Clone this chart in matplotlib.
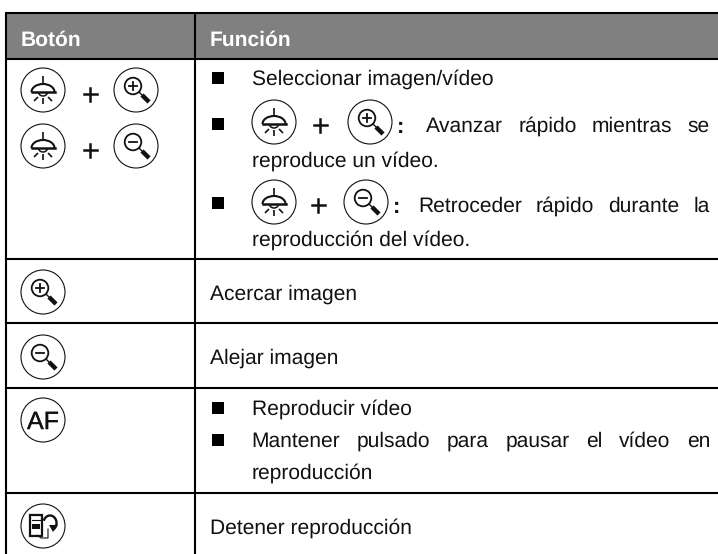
import matplotlib
matplotlib.use('Agg')
import matplotlib.pyplot as plt
import matplotlib.patheffects as pe
from matplotlib.patches import Circle, Rectangle, Arc, Polygon

plt.rcParams['font.family'] = ['Liberation Sans', 'DejaVu Sans']
plt.rcParams['text.hinting'] = 'none'
plt.rcParams['text.hinting_factor'] = 1

# textos de la tabla
encabezados = ['Botón', 'Función']
fila_select = 'Seleccionar imagen/vídeo'
avanzar = ['Avanzar', 'rápido', 'mientras', 'se']
avanzar_2 = 'reproduce un vídeo.'
retroceder = ['Retroceder', 'rápido', 'durante', 'la']
retroceder_2 = 'reproducción del vídeo.'
acercar = 'Acercar imagen'
alejar = 'Alejar imagen'
reproducir = 'Reproducir vídeo'
mantener = ['Mantener', 'pulsado', 'para', 'pausar', 'el', 'vídeo', 'en']
mantener_2 = 'reproducción'
detener = 'Detener reproducción'
tecla_af = 'AF'

# lineas de la tabla, en pixeles
lineas_y = [12.5, 58.5, 259, 323, 388, 493]
col_x = [6, 194.5]
ancho = 718
alto = 554
der_texto = 710

fig = plt.figure(figsize=(ancho / 100, alto / 100), dpi=100)
ax = fig.add_axes([0, 0, 1, 1])
ax.set_xlim(0, ancho)
ax.set_ylim(alto, 0)
ax.axis('off')

FS = 15.1
LW = 1.5


def texto(x, y, s, **kw):
    kw.setdefault('fontsize', FS)
    kw.setdefault('color', '#111111')
    return ax.text(x, y - 1, s, va='center_baseline', **kw)


def justificado(x0, x1, y, palabras):
    r = fig.canvas.get_renderer()
    ts = [texto(x0, y, p) for p in palabras]
    anchos = [t.get_window_extent(r).width for t in ts]
    hueco = (x1 - x0 - sum(anchos)) / (len(palabras) - 1)
    x = x0
    for t, w in zip(ts, anchos):
        t.set_x(x)
        x += w + hueco


def circulo(cx, cy):
    ax.add_patch(Circle((cx, cy), 22, fill=False, ec='#111111', lw=0.8))


def lampara(cx, cy):
    circulo(cx, cy)
    k = dict(color='#111111', lw=1.2, solid_capstyle='butt')
    ax.plot([cx, cx], [cy - 14, cy - 6], **k)
    ax.add_patch(Arc((cx, cy + 2), 23, 16, theta1=180, theta2=360, ec='#111111', lw=1.5))
    ax.plot([cx - 11.5, cx + 11.5], [cy + 2, cy + 2], color='#111111', lw=1.8)
    ax.add_patch(Arc((cx, cy + 2), 9, 8, theta1=0, theta2=180, ec='#111111', lw=1.1))
    ax.plot([cx, cx], [cy + 8, cy + 14], **k)
    ax.plot([cx - 5, cx - 9], [cy + 7, cy + 11], **k)
    ax.plot([cx + 5, cx + 9], [cy + 7, cy + 11], **k)


def lupa(cx, cy, signo):
    circulo(cx, cy)
    lx, ly = cx - 3, cy - 4
    ax.add_patch(Circle((lx, ly), 8.3, fill=False, ec='#111111', lw=1.3))
    ax.plot([lx + 6, lx + 9], [ly + 6, ly + 9], color='#111111', lw=1.0)
    ax.plot([lx + 9, lx + 16], [ly + 9, ly + 16], color='#111111', lw=3.2, solid_capstyle='butt')
    ax.plot([lx - 4, lx + 4], [ly, ly], color='#111111', lw=1.3)
    if signo == '+':
        ax.plot([lx, lx], [ly - 4, ly + 4], color='#111111', lw=1.3)


def documento(cx, cy):
    circulo(cx, cy)
    ax.add_patch(Rectangle((cx - 13, cy - 11), 12, 21, fill=False, ec='#111111', lw=1.6))
    ax.add_patch(Rectangle((cx - 11, cy - 2), 8, 5, color='#111111', lw=0))
    ax.plot([cx - 11, cx - 3], [cy - 6, cy - 6], color='#111111', lw=0.8)
    ax.plot([cx + 5, cx + 5, cx - 2, cx - 6, cx - 6], [cy + 3, cy + 12, cy + 12, cy + 9, cy + 10],
            color='#111111', lw=0.8)
    ax.add_patch(Arc((cx + 7, cy - 3), 13, 15, theta1=200, theta2=60, ec='#111111', lw=1.7))
    ax.add_patch(Polygon([[cx + 6, cy - 1], [cx + 15, cy - 1], [cx + 10, cy + 6]], color='#111111', lw=0))


def mas(x, y):
    ax.plot([x - 6.5, x + 6.5], [y, y], color='#111111', lw=1.8)
    ax.plot([x, x], [y - 6.5, y + 6.5], color='#111111', lw=1.8)


def vineta(y):
    ax.add_patch(Rectangle((212, y - 6), 12, 12, color='black', lw=0))


# encabezado
ax.add_patch(Rectangle((col_x[0], lineas_y[0]), ancho - col_x[0], lineas_y[1] - lineas_y[0],
                       color='#808080', lw=0))
for y in lineas_y:
    ax.plot([col_x[0] - 1, ancho], [y, y], color='black', lw=LW, solid_capstyle='butt')
for x in col_x:
    ax.plot([x, x], [lineas_y[0], alto], color='black', lw=LW, solid_capstyle='butt')
texto(21, 39, encabezados[0], color='white', fontweight='bold', fontsize=15)
texto(210, 39, encabezados[1], color='white', fontweight='bold', fontsize=15)

# columna de botones
lampara(43, 90)
mas(90, 94)
lupa(136, 90, '+')
lampara(43, 146)
mas(90, 150)
lupa(136, 146, '-')
lupa(43, 292, '+')
lupa(43, 357, '-')
circulo(43, 420)
t_af = texto(43, 421, tecla_af, fontsize=18, ha='center')
t_af.set_path_effects([pe.withStroke(linewidth=0.2, foreground='#111111')])
documento(43, 526)

# columna de funciones
vineta(78)
texto(251.5, 78, fila_select)

vineta(124)
lampara(274, 122)
mas(320, 125)
lupa(370, 122, '+')
texto(401, 126, ':', fontsize=16, fontweight='bold', ha='center')
justificado(426, der_texto, 125, avanzar)
texto(251.5, 160, avanzar_2)

vineta(203)
lampara(274, 202)
mas(318, 205)
lupa(366, 202, '-')
texto(397, 206, ':', fontsize=16, fontweight='bold', ha='center')
justificado(418, der_texto, 205, retroceder)
texto(251.5, 239, retroceder_2)

texto(209.5, 293, acercar)
texto(209.5, 357, alejar)

vineta(408)
texto(251.5, 408, reproducir)
vineta(440)
justificado(251.5, der_texto, 440, mantener)
texto(251.5, 472, mantener_2)
texto(209.5, 527, detener)

fig.savefig('out.png', dpi=100)
